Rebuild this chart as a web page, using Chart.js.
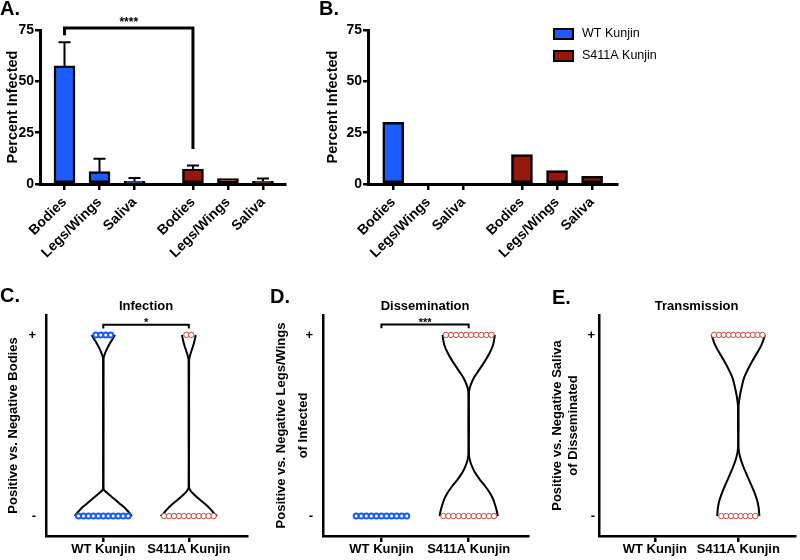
<!DOCTYPE html>
<html>
<head>
<meta charset="utf-8">
<title>Kunjin S411A infection, dissemination and transmission</title>
<script src="https://cdn.jsdelivr.net/npm/chart.js@4.4.1/dist/chart.umd.min.js"></script>
<style>
  html, body { margin:0; padding:0; background:#fff; }
  #fig { position:relative; width:800px; height:560px; overflow:hidden; background:#fff; }
  #fig canvas { position:absolute; }
</style>
</head>
<body>
<div id="fig">
  <canvas id="panelA" width="300" height="280" style="left:0px;top:0px;width:300px;height:280px"></canvas>
  <canvas id="panelB" width="490" height="280" style="left:310px;top:0px;width:490px;height:280px"></canvas>
  <canvas id="panelC" width="270" height="280" style="left:0px;top:280px;width:270px;height:280px"></canvas>
  <canvas id="panelD" width="270" height="280" style="left:270px;top:280px;width:270px;height:280px"></canvas>
  <canvas id="panelE" width="270" height="280" style="left:530px;top:280px;width:270px;height:280px"></canvas>
</div>
<script>
const FONT_FAMILY = "'Liberation Sans', Arial, Helvetica, sans-serif";
Chart.defaults.font.family = FONT_FAMILY;
Chart.defaults.color = '#000';

// ---------------- data ----------------
const barCategories = ['Bodies', 'Legs/Wings', 'Saliva'];
const seriesNames = ['WT Kunjin', 'S411A Kunjin'];
const barSlotsWT = [0, 1, 2];
const barSlotsS411A = [3.67, 4.67, 5.67];
const percentTicks = [0, 25, 50, 75];

const panelA_WT = [57.5, 6, 1.3];
const panelA_WT_err = [11.5, 6.3, 1.6];
const panelA_S411A = [7.3, 2.6, 1.3];
const panelA_S411A_err = [1.7, 0, 1.4];

const panelB_WT = [30, 0, 0];
const panelB_S411A = [14.3, 6.5, 3.7];

const violinGroups = ['WT Kunjin', 'S411A Kunjin'];
const outcomeTicks = ['-', '+'];
// visible mosquitoes per row: [negative, positive]
const infection_WT = [11, 4];
const infection_S411A = [11, 2];
const dissemination_WT = [11, 0];
const dissemination_S411A = [11, 10];
const transmission_WT = [0, 0];
const transmission_S411A = [8, 11];

// violin outlines: outcome level (0 = negative, 1 = positive) and half-width
const infWT_lvl = [1, 0.975, 0.954, 0.93, 0.907, 0.885, 0.87, 0.5, 0.15, 0.13, 0.10, 0.07, 0.046, 0.02, 0.009, 0];
const infWT_hw  = [0.136, 0.105, 0.078, 0.05, 0.027, 0.01, 0.003, 0.003, 0.003, 0.04, 0.116, 0.19, 0.25, 0.30, 0.32, 0.335];
const infS_lvl  = [1, 0.96, 0.935, 0.9, 0.875, 0.861, 0.5, 0.157, 0.14, 0.12, 0.09, 0.065, 0.04, 0.018, 0];
const infS_hw   = [0.081, 0.062, 0.047, 0.022, 0.008, 0.003, 0.003, 0.003, 0.02, 0.058, 0.13, 0.194, 0.25, 0.29, 0.33];
const disS_lvl  = [1, 0.946, 0.9, 0.854, 0.8, 0.761, 0.72, 0.687, 0.5, 0.335, 0.29, 0.243, 0.2, 0.168, 0.13, 0.094, 0.05, 0.02, 0];
const disS_hw   = [0.30, 0.28, 0.24, 0.184, 0.11, 0.057, 0.02, 0.004, 0.004, 0.004, 0.025, 0.069, 0.13, 0.184, 0.24, 0.28, 0.31, 0.326, 0.333];
const traS_lvl  = [1, 0.946, 0.9, 0.853, 0.8, 0.76, 0.7, 0.666, 0.61, 0.5, 0.37, 0.32, 0.275, 0.23, 0.183, 0.14, 0.09, 0.05, 0.015, 0];
const traS_hw   = [0.32, 0.28, 0.225, 0.165, 0.105, 0.067, 0.035, 0.02, 0.004, 0.004, 0.004, 0.025, 0.059, 0.10, 0.145, 0.185, 0.224, 0.243, 0.25, 0.253];

// ---------------- styling ----------------
const WT_COLOR = '#1b5cff';
const S411A_COLOR = '#98170a';
const WT_POINT = '#1b5cff';
const S411A_POINT = '#c8473d';
const SPACING = 0.058;

const fixW = w => s => { s.width = w; };
const fixH = h => s => { s.height = h; };
const bold = (size, lh) => ({ family: FONT_FAMILY, size: size, weight: 'bold', lineHeight: lh || 1.2 });
const cssFont = (size, weight) => (weight || 'bold') + ' ' + size + 'px ' + FONT_FAMILY;

// ---------------- plugins ----------------
const panelText = {
  id: 'panelText',
  afterDraw(chart, args, opts) {
    const ctx = chart.ctx;
    (opts.items || []).forEach(t => {
      ctx.save();
      ctx.font = t.font;
      ctx.fillStyle = '#000';
      ctx.textAlign = t.align || 'left';
      ctx.textBaseline = 'middle';
      const x = (t.dataX !== undefined) ? chart.scales.x.getPixelForValue(t.dataX) : t.x;
      ctx.fillText(t.text, x, t.y);
      ctx.restore();
    });
  }
};

const errorBars = {
  id: 'errorBars',
  afterDatasetsDraw(chart) {
    const ctx = chart.ctx, ys = chart.scales.y;
    chart.data.datasets.forEach((ds, di) => {
      if (!ds.errors) return;
      chart.getDatasetMeta(di).data.forEach((bar, i) => {
        const e = ds.errors[i];
        if (!e) return;
        const v = ds.data[i].y;
        const x = bar.x, y0 = ys.getPixelForValue(v), y1 = ys.getPixelForValue(v + e);
        ctx.save();
        ctx.strokeStyle = '#000';
        ctx.lineWidth = 2;
        ctx.beginPath();
        ctx.moveTo(x, y0); ctx.lineTo(x, y1);
        ctx.moveTo(x - 6, y1); ctx.lineTo(x + 6, y1);
        ctx.stroke();
        ctx.restore();
      });
    });
  }
};

const brackets = {
  id: 'brackets',
  afterDatasetsDraw(chart, args, opts) {
    const ctx = chart.ctx, xs = chart.scales.x, ys = chart.scales.y;
    (opts.items || []).forEach(b => {
      const x0 = xs.getPixelForValue(b.x0), x1 = xs.getPixelForValue(b.x1);
      const y = ys.getPixelForValue(b.y);
      ctx.save();
      ctx.strokeStyle = '#000';
      ctx.lineWidth = b.lw;
      ctx.beginPath();
      ctx.moveTo(x0, ys.getPixelForValue(b.leftEnd));
      ctx.lineTo(x0, y);
      ctx.lineTo(x1, y);
      ctx.lineTo(x1, ys.getPixelForValue(b.rightEnd));
      ctx.stroke();
      ctx.font = b.font;
      ctx.fillStyle = '#000';
      ctx.textAlign = 'center';
      ctx.textBaseline = 'alphabetic';
      ctx.fillText(b.label, (x0 + x1) / 2, y + b.labelDy);
      ctx.restore();
    });
  }
};

const legendBoxes = {
  id: 'legendBoxes',
  afterDraw(chart, args, opts) {
    if (!opts.show) return;
    const ctx = chart.ctx;
    chart.data.datasets.forEach((ds, i) => {
      const cy = opts.y[i];
      ctx.save();
      ctx.fillStyle = ds.backgroundColor;
      ctx.fillRect(opts.x, cy - opts.h / 2, opts.w, opts.h);
      ctx.strokeStyle = '#000';
      ctx.lineWidth = 2;
      ctx.strokeRect(opts.x, cy - opts.h / 2, opts.w, opts.h);
      ctx.fillStyle = '#000';
      ctx.font = cssFont(12.5, 'normal');
      ctx.textAlign = 'left';
      ctx.textBaseline = 'middle';
      ctx.fillText(ds.label, opts.textX, cy);
      ctx.restore();
    });
  }
};

// ---------------- bar panels ----------------
function barPanel(canvasId, wt, wtErr, s411, s411Err, cfg) {
  const allSlots = barSlotsWT.concat(barSlotsS411A);
  return new Chart(document.getElementById(canvasId), {
    type: 'bar',
    data: {
      datasets: [
        { label: seriesNames[0], data: barSlotsWT.map((x, i) => ({ x: x, y: wt[i] })), errors: wtErr,
          backgroundColor: WT_COLOR, borderColor: '#000', borderWidth: 2.5, borderSkipped: false,
          barThickness: 21, grouped: false },
        { label: seriesNames[1], data: barSlotsS411A.map((x, i) => ({ x: x, y: s411[i] })), errors: s411Err,
          backgroundColor: S411A_COLOR, borderColor: '#000', borderWidth: 2.5, borderSkipped: false,
          barThickness: 21, grouped: false }
      ]
    },
    options: {
      responsive: false, animation: false, devicePixelRatio: 1,
      layout: { padding: { top: 30, right: cfg.padRight, left: 0, bottom: 0 } },
      plugins: {
        legend: { display: false }, tooltip: { enabled: false },
        panelText: { items: cfg.texts },
        brackets: { items: cfg.brackets || [] },
        legendBoxes: cfg.legend || { show: false }
      },
      scales: {
        x: {
          type: 'linear', min: cfg.xMin, max: cfg.xMax, offset: false,
          afterBuildTicks: s => { s.ticks = allSlots.map(v => ({ value: v })); },
          afterFit: fixH(96),
          ticks: { autoSkip: false, minRotation: 45, maxRotation: 45, padding: 4, font: bold(14),
                   callback: (v, i) => barCategories[i % 3] },
          grid: { offset: false, drawOnChartArea: false, drawTicks: true, tickLength: 6, lineWidth: 2.5, color: '#000' },
          border: { display: true, width: 3, color: '#000' }
        },
        y: {
          type: 'linear', min: 0, max: 75,
          afterBuildTicks: s => { s.ticks = percentTicks.map(v => ({ value: v })); },
          afterFit: fixW(cfg.yWidth),
          ticks: { padding: 1, font: bold(14) },
          grid: { drawOnChartArea: false, drawTicks: true, tickLength: 5, lineWidth: 2.5, color: '#000' },
          border: { display: true, width: 3, color: '#000' },
          title: { display: true, text: 'Percent Infected', font: bold(14.5), padding: { top: cfg.titlePad, bottom: 0 } }
        }
      }
    },
    plugins: [errorBars, brackets, panelText, legendBoxes]
  });
}

barPanel('panelA', panelA_WT, panelA_WT_err, panelA_S411A, panelA_S411A_err, {
  padRight: 15, yWidth: 40, titlePad: 4, xMin: -0.7, xMax: 6.3,
  texts: [{ text: 'A.', x: 0, y: 9, font: cssFont(20) }],
  brackets: [{ x0: 0, x1: 3.67, y: 76, leftEnd: 72.5, rightEnd: 17, lw: 3, label: '****', font: cssFont(12), labelDy: -2 }]
});

barPanel('panelB', panelB_WT, null, panelB_S411A, null, {
  padRight: 183, yWidth: 58, titlePad: 14, xMin: -0.72, xMax: 6.38,
  texts: [{ text: 'B.', x: 9, y: 9, font: cssFont(20) }],
  legend: { show: true, x: 244, y: [34, 56], w: 19, h: 10, textX: 272 }
});

// ---------------- violin panels ----------------
function rowPoints(center, counts) {
  const pts = [];
  counts.forEach((n, outcome) => {
    for (let i = 0; i < n; i++) pts.push({ x: center + (i - (n - 1) / 2) * SPACING, y: outcome });
  });
  return pts;
}
function outlineSide(center, lvl, hw, side) {
  return lvl.map((l, i) => ({ x: center + side * hw[i], y: l }));
}

function violinPanel(canvasId, cfg) {
  const datasets = [
    { data: rowPoints(0, cfg.wt), showLine: false, pointRadius: 2.5, pointBorderWidth: 2,
      pointBorderColor: WT_POINT, pointBackgroundColor: '#fff', clip: false },
    { data: rowPoints(1, cfg.s411), showLine: false, pointRadius: 2.7, pointBorderWidth: 1,
      pointBorderColor: S411A_POINT, pointBackgroundColor: '#fff', clip: false }
  ];
  cfg.outlines.forEach(o => {
    [-1, 1].forEach(side => datasets.push({
      data: outlineSide(o.center, o.lvl, o.hw, side), showLine: true, borderColor: '#000',
      borderWidth: 2, pointRadius: 0, tension: 0.35, fill: false
    }));
  });
  return new Chart(document.getElementById(canvasId), {
    type: 'scatter',
    data: { datasets: datasets },
    options: {
      responsive: false, animation: false, devicePixelRatio: 1,
      layout: { padding: { top: 35, right: cfg.padRight, left: 0, bottom: 0 } },
      plugins: {
        legend: { display: false }, tooltip: { enabled: false },
        panelText: { items: cfg.texts },
        brackets: { items: cfg.brackets || [] }
      },
      scales: {
        x: {
          type: 'linear', min: -0.67, max: 1.68,
          afterBuildTicks: s => { s.ticks = [0, 1].map(v => ({ value: v })); },
          afterFit: fixH(24),
          ticks: { font: bold(13), padding: 0, callback: (v, i) => violinGroups[i] },
          grid: { drawOnChartArea: false, drawTicks: true, tickLength: 6, lineWidth: 2.5, color: '#000' },
          border: { display: true, width: 2.5, color: '#000' }
        },
        y: {
          type: 'linear', min: -0.11, max: 1.11,
          afterBuildTicks: s => { s.ticks = [0, 1].map(v => ({ value: v })); },
          afterFit: fixW(cfg.yWidth),
          ticks: { font: bold(13), padding: cfg.tickPad, callback: (v, i) => outcomeTicks[i] },
          grid: { drawOnChartArea: false, drawTicks: false, color: '#000' },
          border: { display: true, width: 2.5, color: '#000' },
          title: { display: true, text: cfg.yTitle, font: bold(13, cfg.titleLH), padding: { top: cfg.titlePad, bottom: 0 } }
        }
      }
    },
    plugins: [brackets, panelText]
  });
}

violinPanel('panelC', {
  wt: infection_WT, s411: infection_S411A,
  outlines: [{ center: 0, lvl: infWT_lvl, hw: infWT_hw }, { center: 1, lvl: infS_lvl, hw: infS_hw }],
  yWidth: 46, padRight: 23, tickPad: 10, titlePad: 6, titleLH: 1.2,
  yTitle: 'Positive vs. Negative Bodies',
  texts: [{ text: 'C.', x: 0, y: 16, font: cssFont(20) },
          { text: 'Infection', dataX: 0.5, y: 26, font: cssFont(13), align: 'center' }],
  brackets: [{ x0: 0, x1: 1, y: 1.056, leftEnd: 1.036, rightEnd: 1.036, lw: 2, label: '*', font: cssFont(11), labelDy: 1 }]
});

violinPanel('panelD', {
  wt: dissemination_WT, s411: dissemination_S411A,
  outlines: [{ center: 1, lvl: disS_lvl, hw: disS_hw }],
  yWidth: 53, padRight: 12, tickPad: 10, titlePad: 0, titleLH: 1.69,
  yTitle: ['Positive vs. Negative Legs/Wings', 'of Infected'],
  texts: [{ text: 'D.', x: 0, y: 17, font: cssFont(20) },
          { text: 'Dissemination', dataX: 0.5, y: 26, font: cssFont(13), align: 'center' }],
  brackets: [{ x0: 0, x1: 1, y: 1.057, leftEnd: 1.037, rightEnd: 1.037, lw: 2, label: '***', font: cssFont(11), labelDy: 1 }]
});

violinPanel('panelE', {
  wt: transmission_WT, s411: transmission_S411A,
  outlines: [{ center: 1, lvl: traS_lvl, hw: traS_hw }],
  yWidth: 69, padRight: 0, tickPad: 4, titlePad: 20, titleLH: 1.19,
  yTitle: ['Positive vs. Negative Saliva', 'of Disseminated'],
  texts: [{ text: 'E.', x: 22, y: 18, font: cssFont(20) },
          { text: 'Transmission', dataX: 0.5, y: 26, font: cssFont(13), align: 'center' }]
});
</script>
</body>
</html>
